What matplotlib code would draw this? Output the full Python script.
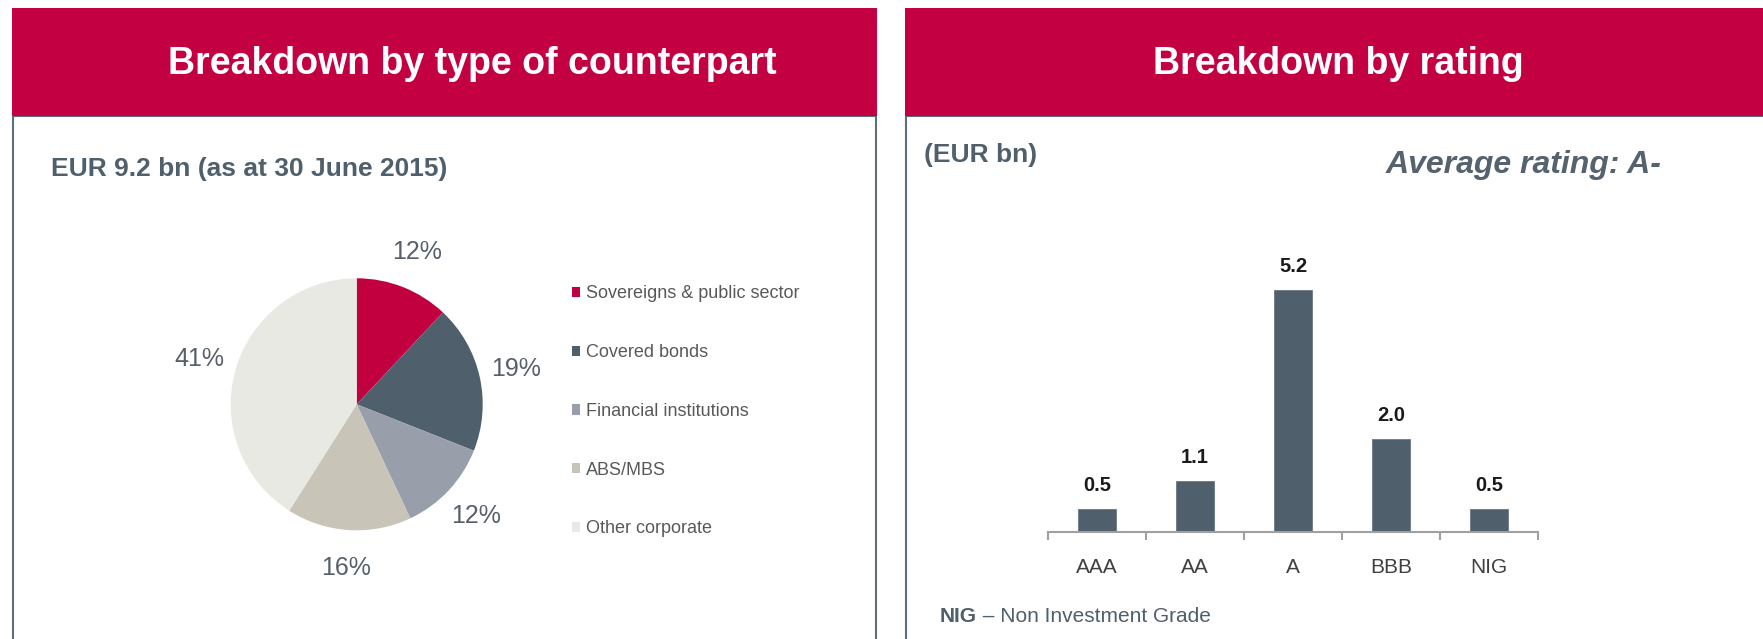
import numpy as np
import matplotlib
matplotlib.use('Agg')
import matplotlib.pyplot as plt
from matplotlib.patches import Rectangle

###--- DATA ---###
counterpart_labels = ['Sovereigns & public sector', 'Covered bonds', 'Financial institutions',
                      'ABS/MBS', 'Other corporate']
counterpart_share = [12, 19, 12, 16, 41]

rating_labels = ['AAA', 'AA', 'A', 'BBB', 'NIG']
rating_values = [0.5, 1.1, 5.2, 2.0, 0.5]

###--- STYLE ---###
W, H = 1763, 639
red = '#c20042'
slate = '#4f5f6c'
border = '#5d6d7a'
pie_colors = ['#c3003f', '#4f5f6c', '#989fab', '#c8c4b8', '#e9e9e4']

plt.rcParams['font.family'] = ['Liberation Sans', 'DejaVu Sans']

fig = plt.figure(figsize=(W / 100, H / 100), dpi=100)


def px_axes(x0, y0, x1, y1, **kw):
    # axes from pixel box (top-left origin)
    return fig.add_axes([x0 / W, 1 - y1 / H, (x1 - x0) / W, (y1 - y0) / H], **kw)


# background: headers, panel frames, captions
bg = fig.add_axes([0, 0, 1, 1], zorder=0)
bg.set_xlim(0, W)
bg.set_ylim(H, 0)
bg.axis('off')

for x0, x1 in [(13, 876), (906, W + 20)]:
    bg.add_patch(Rectangle((x0, 116), x1 - x0, H, facecolor='white',
                           edgecolor=border, lw=1.5))
    bg.add_patch(Rectangle((x0 - 1, 8), x1 - x0 + 2, 108, facecolor=red, edgecolor='none'))

bg.text(472, 64, 'Breakdown by type of counterpart', color='white', fontsize=27,
        fontweight='bold', ha='center', va='center')
bg.text(1338, 64, 'Breakdown by rating', color='white', fontsize=27,
        fontweight='bold', ha='center', va='center')

bg.text(51, 169, 'EUR 9.2 bn (as at 30 June 2015)', color=slate, fontsize=19,
        fontweight='bold', ha='left', va='center')
bg.text(924, 155, '(EUR bn)', color=slate, fontsize=19, fontweight='bold',
        ha='left', va='center')
bg.text(1662, 165, 'Average rating: A-', color='#56626d', fontsize=23,
        fontweight='bold', fontstyle='italic', ha='right', va='center')

t_nig = bg.text(940, 617, 'NIG', color=slate, fontsize=15, fontweight='bold',
                ha='left', va='center')
bg.annotate(' \u2013 Non Investment Grade', xy=(1, 0), xycoords=t_nig, color=slate,
            fontsize=15, ha='left', va='bottom')

###--- PIE ---###
cx, cy, r = 356.7, 404.3, 126
ax_pie = px_axes(cx - r, cy - r, cx + r, cy + r, zorder=1)
wedges, texts, autotexts = ax_pie.pie(counterpart_share, colors=pie_colors, startangle=90,
                                      counterclock=False, radius=1,
                                      autopct='%.0f%%', pctdistance=1.3,
                                      wedgeprops=dict(linewidth=0),
                                      textprops=dict(fontsize=18, color='#55606b'))
ax_pie.set_xlim(-1, 1)
ax_pie.set_ylim(-1, 1)
ax_pie.set_aspect('equal')

leg_fs = 13
fig.legend(wedges, counterpart_labels, loc='upper left',
           bbox_to_anchor=(572 / W, 1 - 285.5 / H), frameon=False,
           fontsize=leg_fs, labelcolor='#595959', borderpad=0, borderaxespad=0,
           handlelength=0.42, handleheight=0.5, handletextpad=0.35,
           labelspacing=2.31)

###--- BARS ---###
unit_px = 46.5
ax_bar = px_axes(1048, 532 - 6 * unit_px, 1538, 532, zorder=1)
ax_bar.patch.set_alpha(0)
x = np.arange(len(rating_labels))
bars = ax_bar.bar(x, rating_values, width=0.385, color=slate, edgecolor='#6b7883', lw=0.6)
ax_bar.bar_label(bars, labels=['%.1f' % v for v in rating_values], padding=10,
                 fontsize=14.5, fontweight='bold', color='#1a1a1a')
ax_bar.set_xlim(-0.5, len(rating_labels) - 0.5)
ax_bar.set_ylim(0, 6)
for s in ['left', 'right', 'top']:
    ax_bar.spines[s].set_visible(False)
ax_bar.spines['bottom'].set_color('#a0a0a0')
ax_bar.spines['bottom'].set_linewidth(1.5)
ax_bar.set_yticks([])
ax_bar.set_xticks(x)
ax_bar.set_xticklabels(rating_labels, fontsize=15, color='#404040')
ax_bar.set_xticks(np.arange(len(rating_labels) + 1) - 0.5, minor=True)
ax_bar.tick_params(axis='x', which='major', length=0, pad=19)
ax_bar.tick_params(axis='x', which='minor', length=6, width=1.5, color='#a0a0a0',
                   direction='out')

fig.savefig('out.png', dpi=100)
